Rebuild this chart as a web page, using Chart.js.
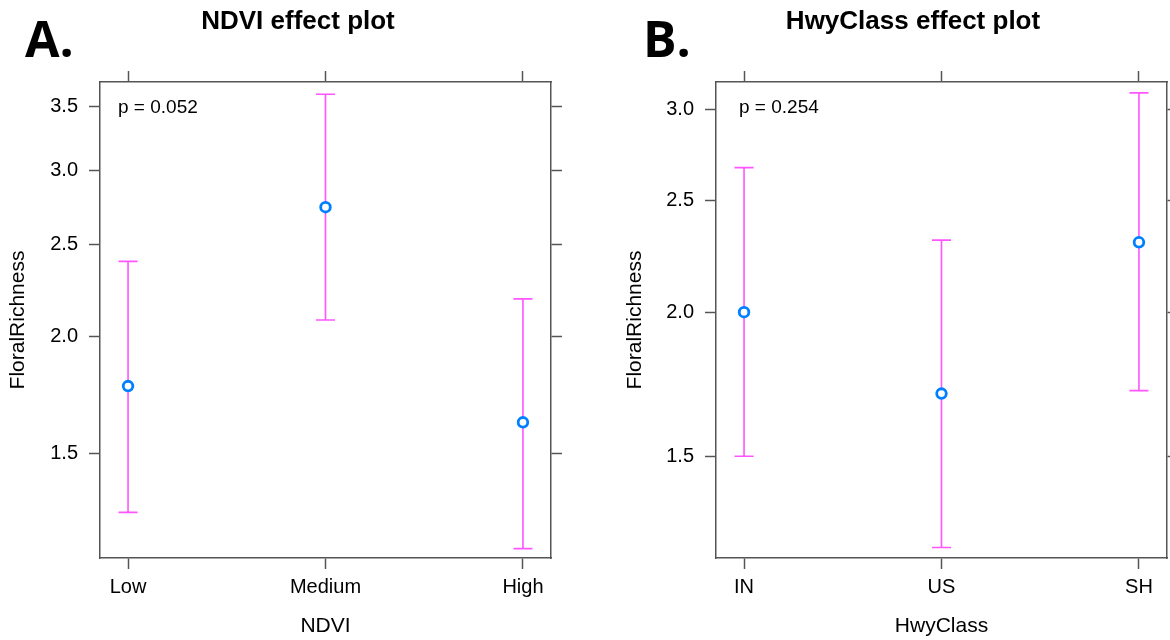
<!DOCTYPE html>
<html>
<head>
<meta charset="utf-8">
<script src="https://cdn.jsdelivr.net/npm/chart.js@4.4.1/dist/chart.umd.min.js"></script>
<style>
  html, body { margin: 0; padding: 0; width: 1170px; height: 640px; overflow: hidden; background: #fff; }
  canvas { position: absolute; top: 0; }
  #ndvi { left: 0; }
  #hwy { left: 596px; }
</style>
</head>
<body>
<canvas id="ndvi" width="596" height="640"></canvas>
<canvas id="hwy" width="634" height="640"></canvas>
<script>
const ndviLevels = ['Low', 'Medium', 'High'];
const ndviFit = [1.77, 2.74, 1.62];
const ndviLower = [1.30, 2.08, 1.19];
const ndviUpper = [2.40, 3.61, 2.19];
const ndviTicks = [1.5, 2.0, 2.5, 3.0, 3.5];

const hwyLevels = ['IN', 'US', 'SH'];
const hwyFit = [2.00, 1.70, 2.30];
const hwyLower = [1.50, 1.25, 1.71];
const hwyUpper = [2.67, 2.31, 3.10];
const hwyTicks = [1.5, 2.0, 2.5, 3.0];

const FONT = "'Liberation Sans', Arial, Helvetica, sans-serif";
const AXIS = '#555';
const BAR = '#ff55ff';
const DOT = '#0080ff';

// confidence interval whiskers, drawn underneath the fitted points
const errorBars = {
  id: 'errorBars',
  beforeDatasetsDraw(chart, args, opts) {
    const { ctx, scales: { x, y } } = chart;
    ctx.save();
    ctx.strokeStyle = BAR;
    ctx.lineWidth = 1.6;
    opts.lower.forEach((lo, i) => {
      const px = x.getPixelForValue(i + 1);
      const y0 = y.getPixelForValue(lo);
      const y1 = y.getPixelForValue(opts.upper[i]);
      ctx.beginPath();
      ctx.moveTo(px, y0); ctx.lineTo(px, y1);
      ctx.moveTo(px - 9.5, y0); ctx.lineTo(px + 9.5, y0);
      ctx.moveTo(px - 9.5, y1); ctx.lineTo(px + 9.5, y1);
      ctx.stroke();
    });
    ctx.restore();
  }
};

// panel letter and p-value note
const panelText = {
  id: 'panelText',
  afterDraw(chart, args, opts) {
    const { ctx, chartArea } = chart;
    ctx.save();
    ctx.fillStyle = '#000';
    ctx.textBaseline = 'alphabetic';
    ctx.textAlign = 'left';
    ctx.font = "bold 50px 'Open Sans', sans-serif";
    ctx.fillText(opts.letter, opts.letterX, 57);
    ctx.font = '19px ' + FONT;
    ctx.fillText(opts.note, chartArea.left + opts.noteX, 113);
    ctx.restore();
  }
};

function panel(id, p) {
  const grid = { drawOnChartArea: false, drawTicks: true, tickLength: 11, tickColor: AXIS, tickWidth: 1.5 };
  const border = { display: true, color: AXIS, width: 1.5 };
  const tickFont = { family: FONT, size: 20 };
  const titleFont = { family: FONT, size: 21 };
  const xVals = p.levels.map((_, i) => i + 1);
  const setTicks = vals => scale => { scale.ticks = vals.map(v => ({ value: v })); };
  const xRange = { min: 0.858, max: 3.142 };
  const yRange = { min: p.yMin, max: p.yMax };

  return new Chart(document.getElementById(id), {
    type: 'scatter',
    data: {
      datasets: [{
        data: p.fit.map((v, i) => ({ x: i + 1, y: v })),
        pointStyle: 'circle',
        pointRadius: 4.8,
        pointBorderWidth: 2.8,
        pointBorderColor: DOT,
        pointBackgroundColor: '#fff'
      }]
    },
    options: {
      responsive: false,
      animation: false,
      layout: { padding: 0, autoPadding: false },
      plugins: {
        legend: { display: false },
        tooltip: { enabled: false },
        title: {
          display: true,
          text: p.title,
          color: '#000',
          font: { family: FONT, size: 26, weight: 'bold' },
          padding: { top: 6, bottom: 0 }
        },
        errorBars: { lower: p.lower, upper: p.upper },
        panelText: { letter: p.letter, letterX: p.letterX, note: p.note, noteX: p.noteX }
      },
      scales: {
        x: {
          type: 'linear', position: 'bottom', ...xRange,
          afterBuildTicks: setTicks(xVals),
          afterFit: s => { s.height = 82; },
          grid, border,
          ticks: { color: '#000', font: tickFont, padding: 6, maxRotation: 0, callback: v => p.levels[v - 1] },
          title: { display: true, text: p.xTitle, color: '#000', font: titleFont, padding: { top: 0, bottom: 1.4 } }
        },
        x2: {
          type: 'linear', position: 'top', ...xRange,
          afterBuildTicks: setTicks(xVals),
          afterFit: s => { s.height = 44.8; },
          grid, border,
          ticks: { display: false }
        },
        y: {
          type: 'logarithmic', position: 'left', ...yRange,
          afterBuildTicks: setTicks(p.ticks),
          afterFit: s => { s.width = p.leftW; },
          grid, border,
          ticks: { color: '#000', font: tickFont, padding: 11, callback: v => Number(v).toFixed(1) },
          title: { display: true, text: 'FloralRichness', color: '#000', font: titleFont, padding: { top: p.yTitlePad, bottom: 0 } }
        },
        y2: {
          type: 'logarithmic', position: 'right', ...yRange,
          afterBuildTicks: setTicks(p.ticks),
          afterFit: s => { s.width = p.rightW; },
          grid, border,
          ticks: { display: false }
        }
      }
    },
    plugins: [errorBars, panelText]
  });
}

panel('ndvi', {
  title: 'NDVI effect plot', xTitle: 'NDVI', letter: 'A.', letterX: 25, note: 'p = 0.052', noteX: 18,
  levels: ndviLevels, fit: ndviFit, lower: ndviLower, upper: ndviUpper, ticks: ndviTicks,
  yMin: 1.163, yMax: 3.72, leftW: 100, rightW: 45, yTitlePad: 5.4
});

panel('hwy', {
  title: 'HwyClass effect plot', xTitle: 'HwyClass', letter: 'B.', letterX: 47, note: 'p = 0.254', noteX: 23,
  levels: hwyLevels, fit: hwyFit, lower: hwyLower, upper: hwyUpper, ticks: hwyTicks,
  yMin: 1.224, yMax: 3.168, leftW: 120, rightW: 63, yTitlePad: 26.4
});
</script>
</body>
</html>
